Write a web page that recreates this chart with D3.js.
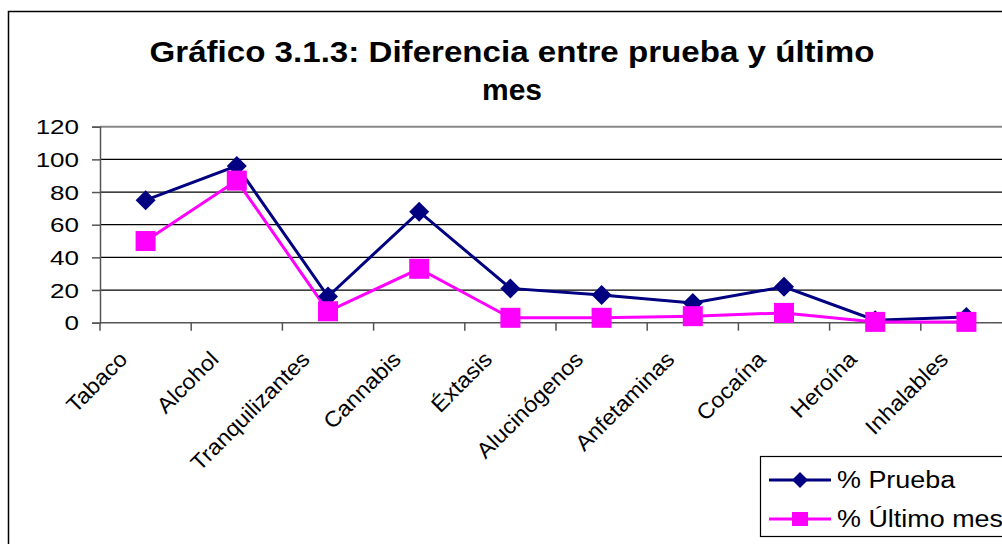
<!DOCTYPE html>
<html><head><meta charset="utf-8">
<script src="https://cdn.jsdelivr.net/npm/d3@7"></script>
<style>
html,body{margin:0;padding:0;background:#fff;overflow:hidden}
text{font-family:"Liberation Sans",Arial,sans-serif}
</style></head>
<body>
<svg id="c" width="1002" height="544"></svg>
<script>
const categories = ["Tabaco","Alcohol","Tranquilizantes","Cannabis","Éxtasis","Alucinógenos","Anfetaminas","Cocaína","Heroína","Inhalables"];
const prueba = [75, 96, 16, 68, 21, 17, 12, 22, 1.5, 3.5];
const ultimo = [50, 87, 7, 33, 3, 3, 4, 6, 0.5, 0.5];
const yTicks = [0, 20, 40, 60, 80, 100, 120];
const seriesNames = ["% Prueba", "% Último mes"];
const titleLines = ["Gráfico 3.1.3: Diferencia entre prueba y último", "mes"];

const svg = d3.select("#c");
const W = 1002, H = 544;
const L = 100, R = 1012, T = 126.7, B = 322.7;

svg.append("rect").attr("width", W).attr("height", H).attr("fill", "#fff");
svg.append("rect").attr("x", 8.5).attr("y", 11.5).attr("width", 1200).attr("height", 800)
  .attr("fill", "none").attr("stroke", "#000").attr("stroke-width", 1.5);

const x = d3.scaleBand().domain(categories).range([L, R]).padding(0);
const y = d3.scaleLinear().domain([0, 120]).range([B, T]);
const cx = c => x(c) + x.bandwidth() / 2;

function stretch(sel, f) {
  sel.each(function () {
    const w = this.getComputedTextLength();
    d3.select(this).attr("textLength", w * f).attr("lengthAdjust", "spacingAndGlyphs");
  });
}

// title
svg.append("text").attr("x", 512).attr("y", 62).attr("text-anchor", "middle")
  .attr("font-size", 30).attr("font-weight", "bold").text(titleLines[0])
  .attr("textLength", 725).attr("lengthAdjust", "spacingAndGlyphs");
svg.append("text").attr("x", 512).attr("y", 100).attr("text-anchor", "middle")
  .attr("font-size", 30).attr("font-weight", "bold").text(titleLines[1]);

// gridlines
svg.append("g").selectAll("line").data(yTicks.filter(t => t > 0 && t < 120)).join("line")
  .attr("x1", L).attr("x2", R).attr("y1", d => y(d)).attr("y2", d => y(d))
  .attr("stroke", "#000").attr("stroke-width", 1.2);
svg.append("line").attr("x1", L).attr("x2", R).attr("y1", y(120)).attr("y2", y(120))
  .attr("stroke", "#888").attr("stroke-width", 2);

// y axis
const ya = svg.append("g").attr("transform", `translate(${L},0)`)
  .call(d3.axisLeft(y).tickValues(yTicks).tickSize(8).tickPadding(13).tickFormat(d3.format("d")));
ya.select(".domain").attr("stroke", "#555").attr("stroke-width", 1.5);
ya.selectAll(".tick line").attr("stroke", "#555").attr("stroke-width", 1.5);
ya.selectAll(".tick text").attr("font-size", 20).attr("fill", "#000").attr("dy", "0.36em")
  .attr("font-family", "Liberation Sans, Arial, sans-serif").call(stretch, 1.3);

// x axis
svg.append("line").attr("x1", L).attr("x2", R).attr("y1", B).attr("y2", B)
  .attr("stroke", "#555").attr("stroke-width", 1.5);
const bounds = categories.map(c => x(c)).concat([R]);
svg.append("g").selectAll("line").data(bounds).join("line")
  .attr("x1", d => d).attr("x2", d => d).attr("y1", B).attr("y2", B + 8)
  .attr("stroke", "#555").attr("stroke-width", 1.5);
svg.append("g").selectAll("text").data(categories).join("text")
  .attr("transform", d => `translate(${cx(d) - 17},${B + 38}) rotate(-45)`)
  .attr("text-anchor", "end").attr("font-size", 22).text(d => d)
  .call(stretch, 1.06);

// lines
const line = d3.line().x((d, i) => cx(categories[i])).y(d => y(d));
svg.append("path").datum(prueba).attr("d", line).attr("fill", "none")
  .attr("stroke", "#000080").attr("stroke-width", 3);
svg.append("path").datum(ultimo).attr("d", line).attr("fill", "none")
  .attr("stroke", "#ff00ff").attr("stroke-width", 3);

const diamond = r => `M0,${-r}L${r},0L0,${r}L${-r},0Z`;
svg.append("g").selectAll("path").data(prueba).join("path")
  .attr("transform", (d, i) => `translate(${cx(categories[i])},${y(d)})`)
  .attr("d", diamond(10)).attr("fill", "#000080");
svg.append("g").selectAll("rect").data(ultimo).join("rect")
  .attr("x", (d, i) => cx(categories[i]) - 10).attr("y", d => y(d) - 10)
  .attr("width", 20).attr("height", 20).attr("fill", "#ff00ff");

// legend
const lg = svg.append("g");
lg.append("rect").attr("x", 760.5).attr("y", 456.5).attr("width", 400).attr("height", 80)
  .attr("fill", "#fff").attr("stroke", "#000").attr("stroke-width", 1.2);
const rows = [{c: "#000080", n: seriesNames[0], y: 480, m: "d"}, {c: "#ff00ff", n: seriesNames[1], y: 519, m: "s"}];
rows.forEach(r => {
  lg.append("line").attr("x1", 769).attr("x2", 831).attr("y1", r.y).attr("y2", r.y)
    .attr("stroke", r.c).attr("stroke-width", 3);
  if (r.m === "d") lg.append("path").attr("transform", `translate(800,${r.y})`).attr("d", diamond(8)).attr("fill", r.c);
  else lg.append("rect").attr("x", 792).attr("y", r.y - 7).attr("width", 16).attr("height", 14).attr("fill", r.c);
  lg.append("text").attr("x", 837).attr("y", r.y + 8).attr("font-size", 23).text(r.n).call(stretch, 1.17);
});
</script>
</body></html>
